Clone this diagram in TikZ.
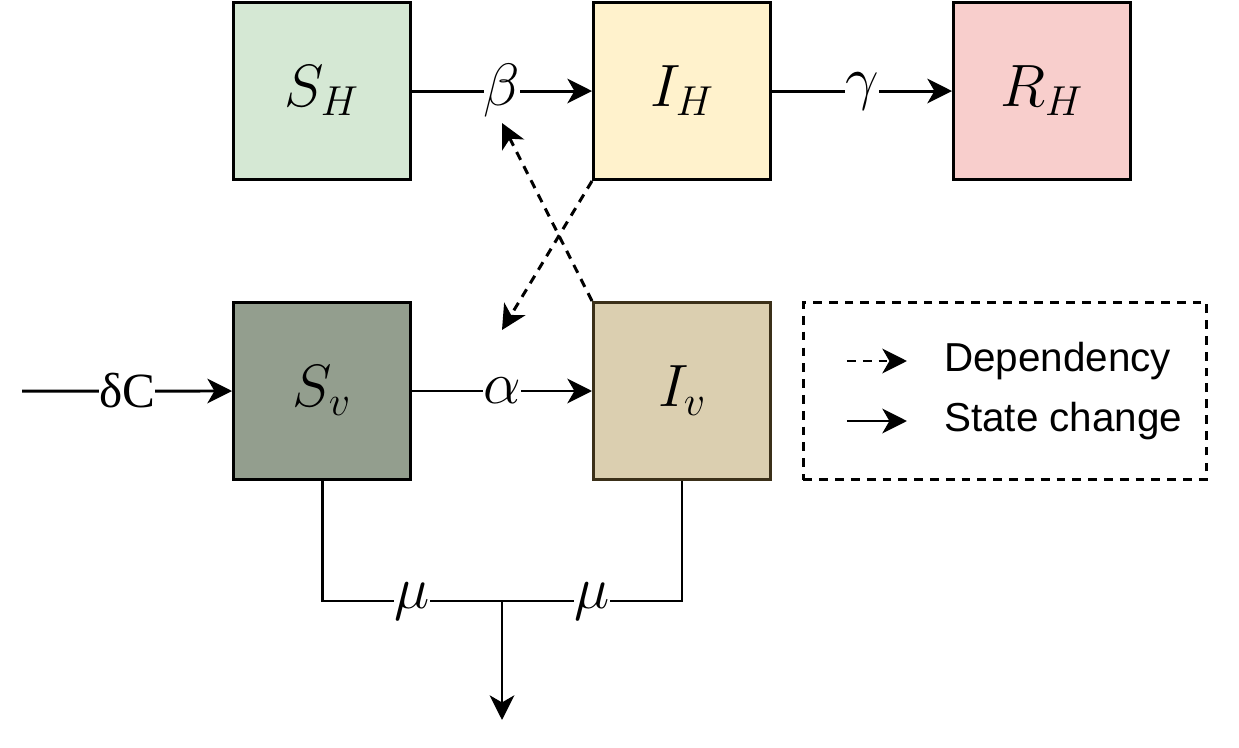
\RequirePackage{fix-cm}
\documentclass[tikz,border=0pt]{standalone}
\usepackage{amsmath,amssymb}
\usepackage{fontspec}
\setmainfont{Liberation Sans}
\newfontfamily\serifgr{Liberation Serif}
\usepackage{xcolor}
\usetikzlibrary{positioning, arrows.meta, calc}
\definecolor{shgreen}{HTML}{D5E8D4}
\definecolor{ihyellow}{HTML}{FFF2CC}
\definecolor{rhred}{HTML}{F8CECC}
\definecolor{svgray}{HTML}{939E8E}
\definecolor{ivtan}{HTML}{DBCFB0}
\definecolor{ivdark}{HTML}{3B3019}

\begin{document}
\begin{tikzpicture}[
    node distance=2.4cm and 3.6cm,
    comp/.style={draw, line width=1.7pt, minimum width=3.54cm, minimum height=3.54cm, inner sep=0pt, font=\fontsize{34}{40}\selectfont},
    rate/.style={fill=white, inner sep=0pt, font=\fontsize{34}{40}\selectfont},
    arrow/.style={-{Stealth[length=14pt, width=14pt, inset=4pt]}, line width=1.7pt},
    depend/.style={arrow, dash pattern=on 5pt off 4pt},
    legtext/.style={font=\fontsize{23}{27}\selectfont, anchor=west},
]
\useasboundingbox (0,0) rectangle (24.78,-14.94);

% Human compartments
\node[comp, fill=shgreen] at (6.44,-1.82) (sh) {$S_H$};
\node[comp, fill=ihyellow, right=of sh] (ih) {$I_H$};
\node[comp, fill=rhred, right=of ih] (rh) {$R_H$};

% Vector compartments
\node[comp, fill=svgray, below=of sh] (sv) {$S_v$};
\node[comp, fill=ivtan, draw=ivdark, below=of ih] (iv) {$I_v$};

% Legend
\node[draw, line width=1.7pt, dash pattern=on 5pt off 4pt, minimum width=8.06cm, minimum height=3.54cm, right=0.6cm of iv] (legend) {};

% State changes
\draw[arrow] (sh) -- node[rate] (beta) {$\beta$} (ih);
\draw[arrow] (ih) -- node[rate] (gamma) {$\gamma$} (rh);
\draw[arrow] (sv) -- node[rate] (alpha) {$\alpha$} (iv);
\coordinate (birth) at (0.44,-7.82);
\draw[arrow] (birth) -- node[fill=white, inner sep=0pt, font=\serifgr\fontsize{28}{32}\selectfont] (delta) {δC} (sv);

% Deaths
\coordinate (merge) at ($(sv.south)!0.5!(iv.south) + (0,-2.4)$);
\coordinate (death) at ($(merge) + (0,-2.38)$);
\draw[line width=1.7pt] (sv.south) |- node[rate, pos=0.75] (musv) {$\mu$} (merge);
\draw[line width=1.7pt] (iv.south) |- node[rate, pos=0.75] (muiv) {$\mu$} (merge);
\draw[arrow] (merge) -- (death);

% Dependencies
\coordinate (betain) at ($(beta.center) + (0,-0.64)$);
\coordinate (alphain) at ($(alpha.center) + (0,1.22)$);
\draw[depend] (iv.north west) -- (betain);
\draw[depend] (ih.south west) -- (alphain);

% Legend entries
\coordinate (dep1) at ($(legend.west) + (0.9,0.6)$);
\coordinate (dep2) at ($(dep1) + (1.2,0)$);
\coordinate (st1) at ($(legend.west) + (0.9,-0.6)$);
\coordinate (st2) at ($(st1) + (1.2,0)$);
\draw[depend] (dep1) -- (dep2);
\draw[arrow] (st1) -- (st2);
\node[legtext] at ($(dep2) + (0.62,0)$) (deptext) {Dependency};
\node[legtext] at ($(st2) + (0.62,0)$) (sttext) {State change};

\end{tikzpicture}
\end{document}
